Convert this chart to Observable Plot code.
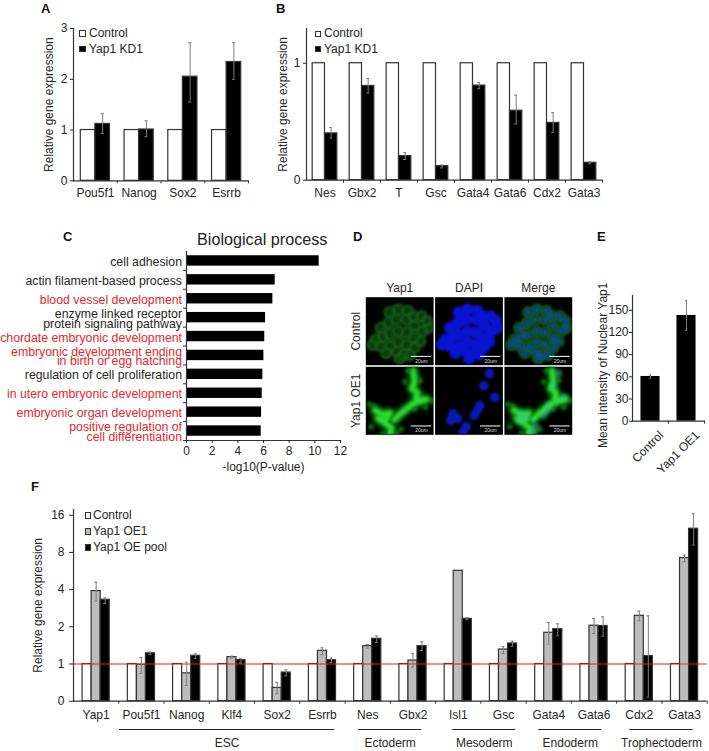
<!DOCTYPE html>
<html><head><meta charset="utf-8">
<script src="https://cdn.jsdelivr.net/npm/d3@7"></script>
<script src="https://cdn.jsdelivr.net/npm/@observablehq/plot@0.6"></script>
<style>
html,body{margin:0;padding:0;background:#fff}
#fig{position:relative;width:709px;height:751px;overflow:hidden;font-family:"Liberation Sans",Arial,sans-serif;color:#262626}
.abs{position:absolute;white-space:nowrap;line-height:1}
.let{font-weight:700;font-size:13px;color:#111}
.sw{position:absolute;box-sizing:border-box;border:1px solid #333}
</style></head><body><div id="fig"></div>
<script>
// Panel A
const aGenes = ["Pou5f1","Nanog","Sox2","Esrrb"];
const aKD    = [1.12,1.01,2.05,2.34];
const aLo    = [0.93,0.87,1.55,2.00];
const aHi    = [1.32,1.18,2.72,2.72];
// Panel B
const bGenes = ["Nes","Gbx2","T","Gsc","Gata4","Gata6","Cdx2","Gata3"];
const bKD    = [0.40,0.806,0.206,0.12,0.809,0.594,0.49,0.149];
const bLo    = [0.36,0.745,0.177,0.105,0.783,0.48,0.409,0.14];
const bHi    = [0.45,0.87,0.235,0.13,0.835,0.728,0.578,0.157];
const kdSeries = ["Control","Yap1 KD1"];
// Panel C
const cTerms = ["cell adhesion","actin filament-based process","blood vessel development","enzyme linked receptor\nprotein signaling pathway","chordate embryonic development","embryonic development ending\nin birth or egg hatching","regulation of cell proliferation","in utero embryonic development","embryonic organ development","positive regulation of\ncell differentiation"];
const cValues = [10.34,6.91,6.73,6.16,6.1,6.03,5.95,5.9,5.85,5.82];
const cRed = [0,0,1,0,1,1,0,1,1,1];
// Panel D
const dCols = ["Yap1","DAPI","Merge"];
const dRows = ["Control","Yap1 OE1"];
const ctrlNuclei = [[35,22],[48,18],[62,20],[70,28],[82,28],[90,35],[92,45],[84,50],[72,42],[60,33],[45,33],[33,38],[22,45],[25,58],[15,62],[10,70],[22,72],[35,55],[48,50],[60,52],[72,60],[80,65],[72,74],[60,70],[48,66],[36,72],[30,82],[45,80],[55,85],[65,85],[50,90]];
const oeNuclei = [[80,10],[72,28],[88,45],[63,63],[58,71],[66,57],[26,69],[23,79],[33,76],[46,88],[41,96]];
const oeBranchA = [[70,6],[72,22],[68,32],[76,38],[74,48],[90,48],[70,54],[60,62],[50,70],[42,78]];
const oeBranchB = [[14,64],[24,70],[36,68],[30,78],[18,76],[30,84],[38,90],[36,98]];
const oeFibres = [[62,6],[88,60],[98,50],[5,55],[8,88],[25,98],[45,98],[52,92],[72,62],[58,22],[80,20],[12,58]];
// Panel E
const eGroups = ["Control","Yap1 OE1"];
const eValues = [60.5,143];
const eLo = [58,122.8];
const eHi = [62.5,163];
const eLabel = ["Mean intensity of Nuclear Yap1"];
// Panel F
const fGenes = ["Yap1","Pou5f1","Nanog","Klf4","Sox2","Esrrb","Nes","Gbx2","Isl1","Gsc","Gata4","Gata6","Cdx2","Gata3"];
const fSeries = ["Control","Yap1 OE1","Yap1 OE pool"];
const fOE    = [3.89,0.986,0.84,1.136,0.64,1.278,1.395,1.067,5.68,1.31,1.79,2.04,2.455,7.2];
const fOELo  = [3.23,0.84,0.67,1.115,0.574,1.187,1.344,0.943,5.68,1.217,1.448,1.765,2.24,6.72];
const fOEHi  = [4.6,1.13,1.035,1.157,0.71,1.35,1.44,1.21,5.68,1.385,2.17,2.34,2.68,7.6];
const fPool  = [3.31,1.22,1.165,1.074,0.853,1.074,1.6,1.395,2.32,1.466,1.915,2.03,1.157,12.44];
const fPoolLo= [3.09,1.19,1.11,1.02,0.80,1.03,1.49,1.286,2.28,1.395,1.69,1.68,0.539,9.17];
const fPoolHi= [3.43,1.25,1.21,1.108,0.897,1.12,1.69,1.51,2.366,1.53,2.115,2.41,2.455,16.45];
const fTicks = [0.5,1,2,4,8,16];
const fTickLabels = ["0","1","2","4","8","16"];
const groupNames = ["ESC","Ectoderm","Mesoderm","Endoderm","Trophectoderm"];
const groupStart = [1.016,6.30,8.38,10.28,12.29];
const groupEnd   = [5.77,7.69,9.77,11.67,13.69];

const fig = document.getElementById("fig");
const AX = "#333", ERR = "#7d7d7d";
function place(opts,left,top){
  const el = Plot.plot({...opts,style:{background:"transparent",fontFamily:'"Liberation Sans",Arial,sans-serif',fontSize:"12px",color:"#262626",overflow:"visible"}});
  el.style.position="absolute"; el.style.left=left+"px"; el.style.top=top+"px";
  fig.appendChild(el); return el;
}
function html(text,left,top,cls,css){
  const d=document.createElement("div"); d.className="abs "+(cls||""); d.textContent=text;
  d.style.left=left+"px"; d.style.top=top+"px"; if(css) d.style.cssText+=css; fig.appendChild(d); return d;
}
function swatch(left,top,size,bg,border){
  const d=document.createElement("div"); d.className="sw";
  d.style.cssText+=`left:${left}px;top:${top}px;width:${size}px;height:${size}px;background:${bg};border-color:${border||"#333"}`;
  fig.appendChild(d);
}
function legend(x,tx,items,size){
  for(const [name,cy,bg] of items){
    swatch(x,cy-size/2,size,bg);
    html(name,tx,cy-6.5,"",'font-size:12px');
  }
}
function table(genes,seriesNames,cols){
  return genes.flatMap((gene,i)=>seriesNames.map((series,j)=>{
    const c=cols[j];
    return c?{gene,series,value:c[0][i],lo:c[1][i],hi:c[2][i]}:{gene,series,value:1,lo:null,hi:null};
  }));
}
function errorMarks(data,bar,cap){
  const d=data.filter(r=>r.lo!=null&&r.hi>r.lo);
  const ins=Math.max(0,(bar-cap)/2);
  return [
    Plot.ruleX(d,{fx:"gene",x:"series",y1:"lo",y2:"hi",stroke:ERR,strokeWidth:1}),
    Plot.tickY(d,{fx:"gene",x:"series",y:"hi",stroke:ERR,strokeWidth:1,insetLeft:ins,insetRight:ins}),
    Plot.tickY(d,{fx:"gene",x:"series",y:"lo",stroke:ERR,strokeWidth:1,insetLeft:ins,insetRight:ins})
  ];
}
function grouped({genes,series,colors,data,y,yAxis,xPad,width,height,marginLeft,marginTop,marginBottom,marginRight,paddingOuter,band,bar,under,y1}){
  return {
    width,height,marginLeft,marginTop,marginBottom,marginRight,
    fx:{domain:genes,padding:0,round:false,label:null},
    x:{domain:series,paddingInner:0,paddingOuter,round:false,axis:null},
    y,
    color:{domain:series,range:colors},
    marks:[
      Plot.barY(data,{fx:"gene",x:"series",...(y1!=null?{y1,y2:"value"}:{y:"value"}),fill:"series",stroke:AX,strokeWidth:1.2}),
      ...(under||[]),
      ...errorMarks(data,bar,3),
      Plot.ruleY([y.domain[0]],{stroke:AX,strokeWidth:1.2}),
      Plot.frame({anchor:"left",fx:[genes[0]],stroke:AX,strokeWidth:1.2}),
      Plot.axisY(yAxis),
      Plot.axisFx({anchor:"bottom",tickSize:3,dx:band/2,tickFormat:()=>"",label:null,stroke:AX}),
      Plot.axisFx({anchor:"bottom",tickSize:0,tickPadding:xPad,label:null})
    ]
  };
}

// A
place(grouped({genes:aGenes,series:kdSeries,colors:["#fff","#000"],
  data:table(aGenes,kdSeries,[null,[aKD,aLo,aHi]]),
  y:{domain:[0,3]},xPad:8,
  yAxis:{ticks:[0,1,2,3],tickFormat:"d",tickSize:3,tickPadding:3,label:"Relative gene expression",labelAnchor:"center",labelArrow:"none",labelOffset:29.5},
  width:250,height:184.3,marginLeft:73,marginTop:10,marginBottom:22,marginRight:2,paddingOuter:0.5,band:43.75,bar:14.6}),0,18);
legend(79,89,[["Control",33.5,"#fff"],["Yap1 KD1",49,"#000"]],6.5);

// B
place(grouped({genes:bGenes,series:kdSeries,colors:["#fff","#000"],
  data:table(bGenes,kdSeries,[null,[bKD,bLo,bHi]]),
  y:{domain:[0,1.297]},xPad:8,
  yAxis:{ticks:[0,1],tickFormat:"d",tickSize:3,tickPadding:3,label:"Relative gene expression",labelAnchor:"center",labelArrow:"none",labelOffset:28},
  width:604,height:184.3,marginLeft:306,marginTop:10,marginBottom:22.6,marginRight:2,paddingOuter:0.5,band:37,bar:12.3}),0,18);
legend(315,324,[["Control",33.5,"#fff"],["Yap1 KD1",49,"#000"]],6);

// C
const cData = cTerms.map((term,i)=>({term,value:cValues[i],red:cRed[i]}));
const cBand = 18.9;
place({width:342,height:240,marginLeft:186,marginTop:11,marginBottom:40,marginRight:2,
  x:{domain:[0,12]},
  y:{domain:cTerms,paddingInner:0.45,paddingOuter:0.225,round:false},
  marks:[
    Plot.barX(cData,{y:"term",x:"value",fill:"#000"}),
    Plot.text(cData,{y:"term",x:0,text:"term",textAnchor:"end",dx:-4.5,dy:2,lineHeight:0.79,fontSize:12.3,fill:d=>d.red?"#e0282e":"#262626"}),
    Plot.frame({anchor:"left",stroke:AX,strokeWidth:1.2}),
    Plot.frame({anchor:"bottom",stroke:AX,strokeWidth:1.2}),
    Plot.axisY({tickSize:3,dy:cBand/2,tickFormat:()=>"",label:null,stroke:AX}),
    Plot.axisX({ticks:[0,2,4,6,8,10,12],tickSize:3,tickPadding:3,label:"-log10(P-value)",labelAnchor:"center",labelArrow:"none",labelOffset:30})
  ]},0,240);
html("Biological process",197,231,"",'font-size:16.2px;color:#222');

// D
const keyed = (list,row,cols)=>cols.flatMap(col=>list.map(([x,y])=>({x,y,row,col})));
const scaleKeys = dRows.flatMap(row=>dCols.map(col=>({row,col})));
const face = {x:"x",y:"y",fx:"col",fy:"row",clip:"frame"};
const greenCols = ["Yap1","Merge"];
const branches = [oeBranchA,oeBranchB].map(b=>keyed(b,"Yap1 OE1",greenCols));
place({width:230,height:161,marginLeft:20.3,marginRight:3.3,marginTop:21.7,marginBottom:1.7,
  fx:{domain:dCols,padding:0.022,round:false},
  fy:{domain:dRows,padding:0.022,round:false},
  x:{domain:[0,100],axis:null},
  y:{domain:[0,100],reverse:true,axis:null},
  marks:[
    Plot.frame({fill:"#000"}),
    Plot.dot(keyed(ctrlNuclei,"Control",greenCols),{...face,r:6.5,fill:"#0a3a0c",imageFilter:"blur(1.4px)"}),
    Plot.dot(keyed(ctrlNuclei,"Control",greenCols),{...face,r:4.6,fill:"none",stroke:"#1d7022",strokeWidth:1.1,imageFilter:"blur(1px)"}),
    Plot.dot(keyed(oeFibres,"Yap1 OE1",greenCols),{...face,r:3,fill:"#0b6a10",imageFilter:"blur(1.6px)"}),
    ...branches.map(b=>Plot.line(b,{...face,z:"col",stroke:"#0e8f14",strokeWidth:10,imageFilter:"blur(2px)"})),
    ...branches.map(b=>Plot.line(b,{...face,z:"col",stroke:"#2fdc34",strokeWidth:4.5,imageFilter:"blur(1.4px)"})),
    Plot.dot(keyed(ctrlNuclei,"Control",["DAPI"]),{...face,r:6,fill:"#0a14d0",imageFilter:"blur(1.1px)"}),
    Plot.dot(keyed(oeNuclei,"Yap1 OE1",["DAPI"]),{...face,r:4.8,fill:"#0a18b4",imageFilter:"blur(1.2px)"}),
    Plot.dot(keyed(ctrlNuclei,"Control",["Merge"]),{...face,r:3.4,fill:"#0a4a98",fillOpacity:0.9,imageFilter:"blur(1.1px)"}),
    Plot.dot(keyed(oeNuclei,"Yap1 OE1",["Merge"]),{...face,r:4,fill:"#3ac8a0",fillOpacity:0.45,imageFilter:"blur(1.4px)"}),
    Plot.ruleY(scaleKeys,{fx:"col",fy:"row",y:()=>87,x1:()=>67,x2:()=>97,stroke:"#fff",strokeWidth:1}),
    Plot.text(scaleKeys,{fx:"col",fy:"row",y:()=>94,x:()=>82,text:()=>"20um",fill:"#ddd",fontSize:5}),
    Plot.axisFx({anchor:"top",tickSize:0,tickPadding:5,label:null}),
    Plot.axisFy({anchor:"left",tickSize:0,tickPadding:6,tickRotate:-90,label:null})
  ]},345,275);

// E
const eData = eGroups.map((group,i)=>({group,value:eValues[i],lo:eLo[i],hi:eHi[i]}));
place({width:119,height:195.7,marginLeft:42,marginTop:10,marginBottom:60,marginRight:5,
  x:{domain:eGroups,paddingInner:0.47,paddingOuter:0.235,round:false},
  y:{domain:[0,170]},
  marks:[
    Plot.barY(eData,{x:"group",y:"value",fill:"#000"}),
    Plot.ruleX(eData,{x:"group",y1:"lo",y2:"hi",stroke:ERR}),
    Plot.tickY(eData,{x:"group",y:"hi",stroke:ERR,insetLeft:8.5,insetRight:8.5}),
    Plot.tickY(eData,{x:"group",y:"lo",stroke:ERR,insetLeft:8.5,insetRight:8.5}),
    Plot.frame({anchor:"left",stroke:AX,strokeWidth:1.2}),
    Plot.frame({anchor:"bottom",stroke:AX,strokeWidth:1.2}),
    Plot.axisY({ticks:[0,30,60,90,120,150],tickSize:3,tickPadding:1,label:null}),
    Plot.text(eLabel,{frameAnchor:"left",textAnchor:"middle",dx:-29.3,dy:7,rotate:-90,fontSize:12,fill:"#262626"}),
    Plot.axisX({tickSize:3,dx:18,tickFormat:()=>"",label:null,stroke:AX}),
    Plot.axisX({tickSize:0,tickRotate:-45,tickPadding:8,dx:11,dy:4,label:null})
  ]},590,285);

// F
const fData = table(fGenes,fSeries,[null,[fOE,fOELo,fOEHi],[fPool,fPoolLo,fPoolHi]]);
place(grouped({genes:fGenes,series:fSeries,colors:["#fff","#bcbcbc","#000"],data:fData,
  y:{type:"log",base:2,domain:[0.5,17.8]},y1:0.5,xPad:9,
  yAxis:{ticks:fTicks,tickFormat:d=>fTickLabels[fTicks.indexOf(d)],tickSize:4,tickPadding:5,label:"Relative gene expression",labelAnchor:"center",labelArrow:"none",labelOffset:40},
  under:[Plot.ruleY([1],{stroke:"#e2231a",strokeWidth:1.2})],
  width:709,height:222.7,marginLeft:73,marginTop:9,marginBottom:22,marginRight:2.3,paddingOuter:1,band:45.27,bar:9}),0,500);
legend(84.7,93,[["Control",515.5,"#fff"],["Yap1 OE1",531.5,"#bcbcbc"],["Yap1 OE pool",547.5,"#000"]],6.2);

const gData = groupNames.map((name,i)=>({name,a:groupStart[i],b:groupEnd[i]}));
place({width:709,height:26,marginLeft:73,marginRight:2.3,marginTop:2,marginBottom:0,
  x:{domain:[0,14],axis:null},y:{domain:[0,1],axis:null},
  marks:[
    Plot.ruleY(gData,{y:()=>1,x1:"a",x2:"b",stroke:"#222",strokeWidth:1}),
    Plot.text(gData,{x:d=>(d.a+d.b)/2,y:()=>1,text:"name",dy:13.5,fontSize:12})
  ]},0,727.3);

// Panel letters
[["A",41,2],["B",276,2],["C",63,230],["D",353,230],["E",597,230],["F",31,480]].forEach(([t,x,y])=>html(t,x,y,"let"));
</script></body></html>
